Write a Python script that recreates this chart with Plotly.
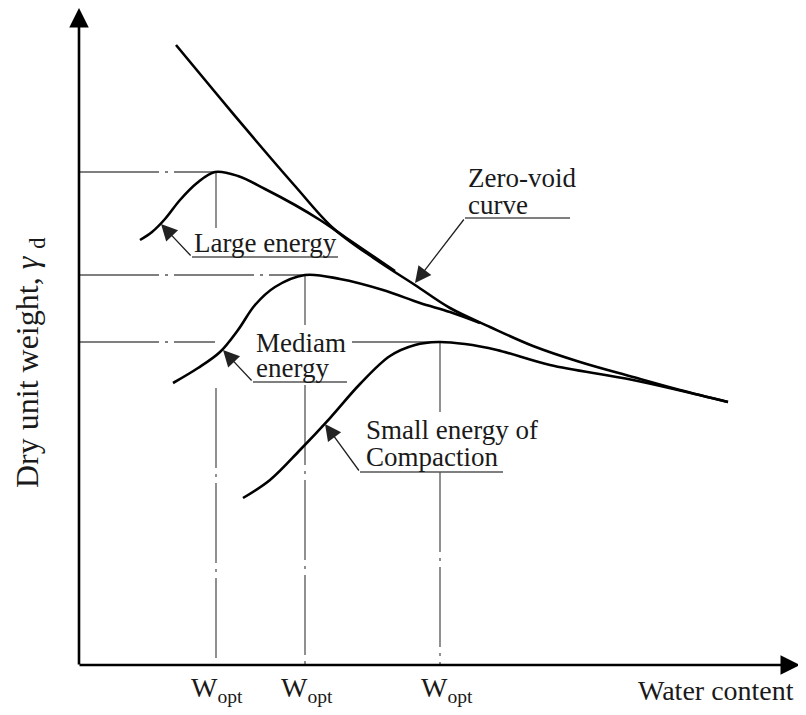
import plotly.graph_objects as go

# ---- schematic data (arbitrary units: water content on x, dry unit weight on y) ----
zv_x = [176, 215, 257, 295, 333, 375, 415, 450, 490, 533, 580, 633, 680, 728]
zv_y = [670, 623, 573, 529, 487, 456, 430, 407, 388, 369, 353, 338, 325, 313]

large_x = [140, 152, 165, 180, 197, 215, 238, 265, 295, 320, 345, 370, 395]
large_y = [475, 483, 496, 515, 532, 543, 539, 526, 510, 495, 478, 461, 444]

medium_x = [173, 198, 220, 238, 255, 275, 305, 340, 383, 420, 450, 480]
medium_y = [332, 347, 363, 385, 410, 428, 440, 436, 425, 412, 403, 392]

small_x = [243, 270, 300, 330, 360, 390, 415, 438, 465, 497, 550, 633, 728]
small_y = [217, 235, 265, 297, 331, 359, 370, 373, 371, 365, 350, 335, 313]

# optimum water contents and max dry unit weights
w_opt = [216, 305, 440]
gamma_max = [543, 440, 373]
origin_x, origin_y = 79, 50
x_end, y_end = 800, 707

# gaps in the reference lines where labels sit
h_gaps = [None, None, (215, 352)]
v_gaps = [(487, 327), (390, 330), (303, 243)]

tick_labels = ["W<sub>opt</sub>", "W<sub>opt</sub>", "W<sub>opt</sub>"]
tick_label_x = [217, 307, 447]

labels = [
    # text lines, left x, line ys, underline (x0, x1, y), arrow tip (x, y)
    (["Large energy"], 192, [472], (192, 338, 458), (161, 491)),
    (["Mediam", "energy"], 254, [372, 347], (253, 347, 333), (223, 365)),
    (["Small energy of", "Compaction"], 364, [285, 258], (360, 503, 243), (325, 291)),
    (["Zero-void", "curve"], 466, [537, 510], (465, 570, 497), (415, 432)),
]

FONT = "Liberation Serif, Times New Roman, serif"
REF = "#555555"
DASH = "80px,6px,3px,6px"

fig = go.Figure()

# reference dash-dot lines
for wx, gy, hg, vg in zip(w_opt, gamma_max, h_gaps, v_gaps):
    if hg is None:
        hx, hy = [origin_x, wx], [gy, gy]
    else:
        hx, hy = [origin_x, hg[0], None, hg[1], wx], [gy, gy, None, gy, gy]
    fig.add_trace(go.Scatter(x=hx, y=hy, mode="lines",
                             line=dict(color=REF, width=1.3, dash=DASH),
                             hoverinfo="skip"))
    vx = [wx, wx, None, wx, wx]
    vy = [gy, vg[0], None, vg[1], origin_y]
    fig.add_trace(go.Scatter(x=vx, y=vy, mode="lines",
                             line=dict(color=REF, width=1.3, dash=DASH),
                             hoverinfo="skip"))

# curves
for cx, cy in [(zv_x, zv_y), (large_x, large_y), (medium_x, medium_y), (small_x, small_y)]:
    fig.add_trace(go.Scatter(x=cx, y=cy, mode="lines",
                             line=dict(color="black", width=2.6, shape="spline", smoothing=1.0),
                             hoverinfo="skip"))

annotations = []

# axes with arrowheads
annotations.append(dict(x=x_end, y=origin_y, ax=origin_x - 1, ay=origin_y, xref="x", yref="y",
                        axref="x", ayref="y", text="", showarrow=True, arrowhead=2,
                        arrowsize=1.5, arrowwidth=2.6, arrowcolor="black"))
annotations.append(dict(x=origin_x, y=y_end, ax=origin_x, ay=origin_y - 1, xref="x", yref="y",
                        axref="x", ayref="y", text="", showarrow=True, arrowhead=2,
                        arrowsize=1.5, arrowwidth=2.6, arrowcolor="black"))

# labels with underline and leader arrows
for lines, lx, lys, ul, tip in labels:
    for t, ly in zip(lines, lys):
        annotations.append(dict(x=lx, y=ly, xref="x", yref="y", text=t, showarrow=False,
                                xanchor="left", yanchor="middle",
                                font=dict(family=FONT, size=27, color="#1a1a1a")))
    fig.add_trace(go.Scatter(x=[ul[0], ul[1]], y=[ul[2], ul[2]], mode="lines",
                             line=dict(color=REF, width=1.3), hoverinfo="skip"))
    annotations.append(dict(x=tip[0], y=tip[1], ax=ul[0], ay=ul[2], xref="x", yref="y",
                            axref="x", ayref="y", text="", showarrow=True, arrowhead=2,
                            arrowsize=2.5, arrowwidth=1.3, arrowcolor="#222222"))

# W_opt tick labels
for tx, tl in zip(tick_label_x, tick_labels):
    annotations.append(dict(x=tx, y=26, xref="x", yref="y", text=tl, showarrow=False,
                            xanchor="center", yanchor="middle",
                            font=dict(family=FONT, size=28, color="#1a1a1a")))

# axis titles
annotations.append(dict(x=796, y=25, xref="x", yref="y", text="Water content", showarrow=False,
                        xanchor="right", yanchor="middle",
                        font=dict(family=FONT, size=28, color="#1a1a1a")))
annotations.append(dict(x=29, y=352, xref="x", yref="y",
                        text="Dry unit weight, <i>\u03b3</i> <sub>d</sub>",
                        showarrow=False, textangle=-90, xanchor="center", yanchor="middle",
                        font=dict(family=FONT, size=32, color="#1a1a1a")))

# the page body has an 8px margin: the plot div starts at (8, 8) in the window
fig.update_layout(
    width=798, height=707,
    margin=dict(l=0, r=0, t=0, b=0),
    paper_bgcolor="white", plot_bgcolor="white",
    showlegend=False,
    xaxis=dict(range=[8, 806], visible=False, fixedrange=True),
    yaxis=dict(range=[0, 707], visible=False, fixedrange=True),
    annotations=annotations,
)

fig.write_html("out.html")
